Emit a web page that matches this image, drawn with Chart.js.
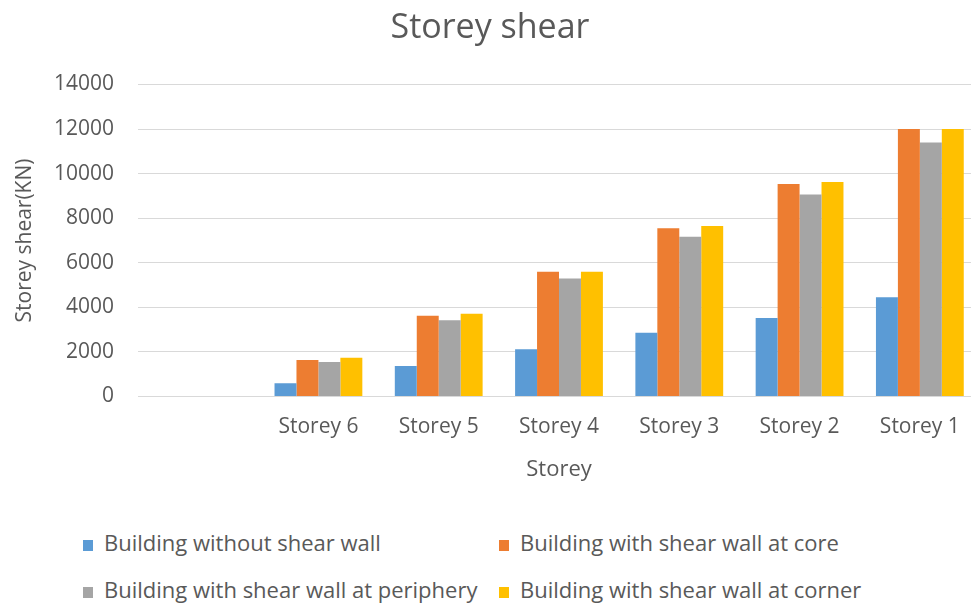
<!DOCTYPE html>
<html>
<head>
<meta charset="utf-8">
<script src="https://cdn.jsdelivr.net/npm/chart.js@4/dist/chart.umd.min.js"></script>
<style>
  html, body { margin: 0; padding: 0; background: #fff; overflow: hidden; }
  #wrap { position: relative; width: 980px; height: 603px; }
  #legend { position: absolute; left: 83px; top: 527px; font-family: "Open Sans", sans-serif;
            font-size: 22px; line-height: 30px; color: #595959; display: grid;
            grid-template-columns: 416px 420px; row-gap: 17px; white-space: nowrap; }
  #legend span.box { display: inline-block; width: 10px; height: 11px; margin-right: 11px; }
</style>
</head>
<body>
<div id="wrap">
  <canvas id="myChart" width="980" height="500" style="width:980px;height:500px"></canvas>
  <div id="legend"></div>
</div>
<script>
const storeys = ['', 'Storey 6', 'Storey 5', 'Storey 4', 'Storey 3', 'Storey 2', 'Storey 1'];
const withoutWall = [null, 600, 1370, 2120, 2860, 3520, 4450];
const wallAtCore = [null, 1640, 3620, 5600, 7550, 9530, 12000];
const wallAtPeriphery = [null, 1550, 3420, 5300, 7170, 9060, 11400];
const wallAtCorner = [null, 1740, 3710, 5600, 7650, 9620, 12000];
const yTicks = [0, 2000, 4000, 6000, 8000, 10000, 12000, 14000];

const names = [
  'Building without shear wall',
  'Building with shear wall at core',
  'Building with shear wall at periphery',
  'Building with shear wall at corner'
];
const colors = ['#5b9bd5', '#ed7d31', '#a5a5a5', '#ffc000'];
const values = [withoutWall, wallAtCore, wallAtPeriphery, wallAtCorner];

const datasets = values.map((v, i) => ({
  label: names[i],
  data: v,
  backgroundColor: colors[i],
  categoryPercentage: 0.73,
  barPercentage: 1
}));

const font = 'Open Sans';
const grey = '#595959';

const ctx = document.getElementById('myChart').getContext('2d');
const myChart = new Chart(ctx, {
  type: 'bar',
  data: { labels: storeys, datasets: datasets },
  options: {
    responsive: false,
    animation: false,
    layout: { padding: { left: 0, right: 0, top: 0, bottom: 12.8 } },
    scales: {
      x: {
        grid: { display: false },
        border: { color: '#d9d9d9' },
        ticks: { color: grey, font: { family: font, size: 21 }, padding: 10 },
        title: { display: true, text: 'Storey', color: grey, font: { family: font, size: 22 } },
        afterFit: s => { s.height = 90.7; }
      },
      y: {
        min: 0,
        max: 14000,
        afterBuildTicks: s => { s.ticks = yTicks.map(v => ({ value: v })); },
        grid: { color: '#d9d9d9', drawTicks: false },
        border: { display: false },
        ticks: { color: grey, font: { family: font, size: 21 }, padding: 24, callback: v => String(v) },
        title: { display: true, text: 'Storey shear(KN)', color: grey, font: { family: font, size: 21 }, padding: { top: 12, bottom: 4 } },
        afterFit: s => { s.width = 138; }
      }
    },
    plugins: {
      legend: { display: false },
      tooltip: { enabled: false },
      title: {
        display: true,
        text: 'Storey shear',
        color: grey,
        font: { family: font, size: 34, weight: 'normal' },
        padding: { top: 7.6, bottom: 36.1 }
      }
    }
  }
});

const legend = document.getElementById('legend');
myChart.data.datasets.forEach(ds => {
  const item = document.createElement('div');
  item.innerHTML = '<span class="box" style="background:' + ds.backgroundColor + '"></span>' + ds.label;
  legend.appendChild(item);
});
</script>
</body>
</html>
